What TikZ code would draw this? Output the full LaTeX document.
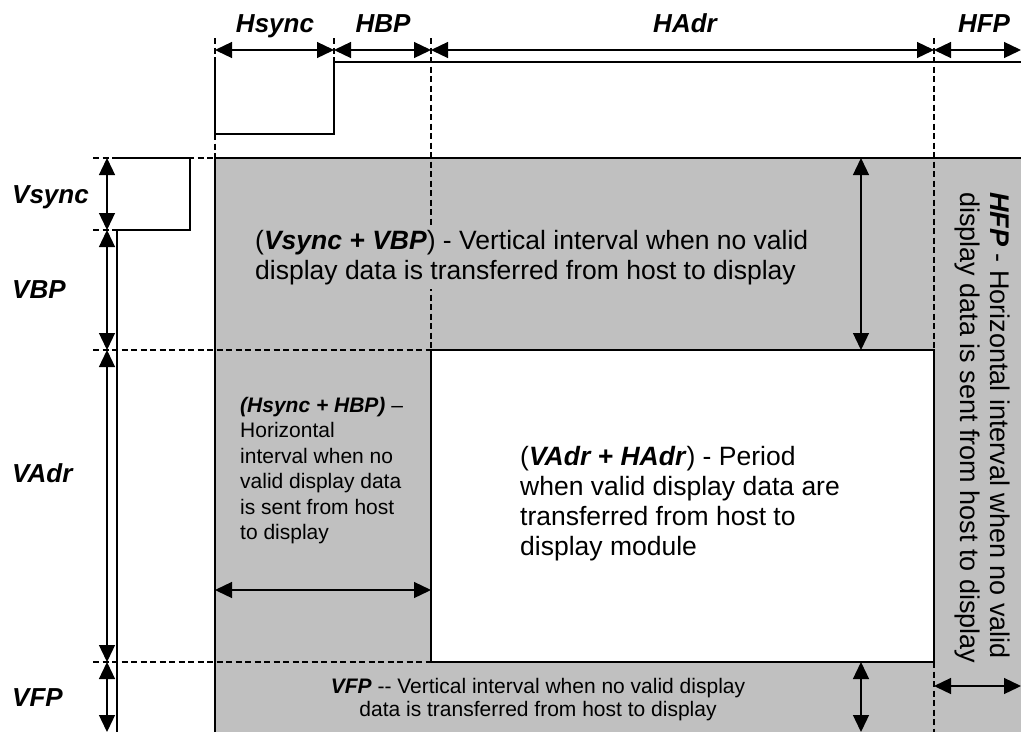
\documentclass[tikz,border=0pt]{standalone}
\usepackage{fontspec}
\setmainfont{Liberation Sans}
\usetikzlibrary{arrows.meta}
\definecolor{blankgray}{RGB}{192,192,192}
\begin{document}
\begin{tikzpicture}[x=1pt,y=1pt,
  dimarrow/.style={line width=1.3pt,{Triangle[length=17pt,width=16pt]}-{Triangle[length=17pt,width=16pt]}},
  guide/.style={line width=1.2pt,dash pattern=on 6pt off 3.5pt},
  wave/.style={line width=1.4pt},
  lab/.style={font=\fontsize{26}{30}\selectfont\bfseries\itshape,inner sep=0pt},
  bigtext/.style={font=\fontsize{26.5}{30}\selectfont,inner sep=0pt,align=left},
  smalltext/.style={font=\fontsize{21}{25.4}\selectfont,inner sep=0pt,align=left}]
\useasboundingbox (0,0) rectangle (1021,-732);

% shaded blanking area and active area
\fill[blankgray] (215,-158) rectangle (1021,-732);
\draw[wave] (215,-732) -- (215,-158) -- (1021,-158);

% guide lines
\draw[guide] (215,-38) -- (215,-62);
\draw[guide] (215,-134) -- (215,-158);
\draw[guide] (334,-38) -- (334,-62);
\draw[guide] (431,-38) -- (431,-350);
\draw[guide] (934,-38) -- (934,-350);
\draw[guide] (934,-662) -- (934,-732);
\draw[guide] (93,-158) -- (215,-158);
\draw[guide] (93,-230) -- (117,-230);
\draw[guide] (93,-350) -- (431,-350);
\draw[guide] (93,-662) -- (431,-662);

\draw[wave,fill=white] (431,-350) rectangle (934,-662);

% sync waveforms
\draw[wave] (215,-62) -- (215,-134) -- (334,-134) -- (334,-62) -- (1021,-62);
\draw[wave] (117,-158) -- (190,-158) -- (190,-230) -- (117,-230) -- (117,-732);

% coordinates
\coordinate (h0) at (215,-50);
\coordinate (h1) at (334,-50);
\coordinate (h2) at (431,-50);
\coordinate (h3) at (934,-50);
\coordinate (h4) at (1021,-50);
\coordinate (v0) at (107,-158);
\coordinate (v1) at (107,-230);
\coordinate (v2) at (107,-350);
\coordinate (v3) at (107,-662);
\coordinate (v4) at (107,-732);
\coordinate (ta) at (861,-158);
\coordinate (tb) at (861,-350);
\coordinate (ba) at (861,-662);
\coordinate (bb) at (861,-732);
\coordinate (la) at (215,-590);
\coordinate (lb) at (431,-590);
\coordinate (ra) at (934,-686);
\coordinate (rb) at (1021,-686);

% dimension arrows
\draw[dimarrow] (h0) -- (h1);
\draw[dimarrow] (h1) -- (h2);
\draw[dimarrow] (h2) -- (h3);
\draw[dimarrow] (h3) -- (h4);
\draw[dimarrow] (v0) -- (v1);
\draw[dimarrow] (v1) -- (v2);
\draw[dimarrow] (v2) -- (v3);
\draw[dimarrow] (v3) -- (v4);
\draw[dimarrow] (ta) -- (tb);
\draw[dimarrow] (ba) -- (bb);
\draw[dimarrow] (la) -- (lb);
\draw[dimarrow] (ra) -- (rb);

% labels
\node[lab,anchor=base] (lHsync) at (275,-32) {Hsync};
\node[lab,anchor=base] (lHBP) at (383,-32) {HBP};
\node[lab,anchor=base] (lHAdr) at (685,-32) {HAdr};
\node[lab,anchor=base] (lHFP) at (984,-32) {HFP};
\node[lab,anchor=base west] (lVsync) at (12,-203) {Vsync};
\node[lab,anchor=base west] (lVBP) at (12,-298) {VBP};
\node[lab,anchor=base west] (lVAdr) at (12,-482) {VAdr};
\node[lab,anchor=base west] (lVFP) at (12,-706) {VFP};

% descriptions
\node[bigtext,fill=blankgray,inner sep=4pt,anchor=north west] (tVert) at (251,-226)
  {(\textbf{\textit{Vsync + VBP}}) - Vertical interval when no valid\\
   display data is transferred from host to display};
\node[bigtext,anchor=north west] (tAct) at (520,-446)
  {(\textbf{\textit{VAdr + HAdr}}) - Period\\
   when valid display data are\\
   transferred from host to\\
   display module};
\node[smalltext,anchor=north west] (tHor) at (240,-397)
  {\textbf{\textit{(Hsync + HBP)}} --\\
   Horizontal\\
   interval when no\\
   valid display data\\
   is sent from host\\
   to display};
\node[smalltext,align=center,font=\fontsize{21}{23}\selectfont,anchor=north] (tVFP) at (538,-678)
  {\textbf{\textit{VFP}} -{}- Vertical interval when no valid display\\
   data is transferred from host to display};
\node[bigtext,font=\fontsize{27}{30}\selectfont,rotate=-90,anchor=north west] (tHFP) at (1010,-192)
  {\textbf{\textit{HFP}} - Horizontal interval when no valid\\
   display data is sent from host to display};
\end{tikzpicture}
\end{document}
